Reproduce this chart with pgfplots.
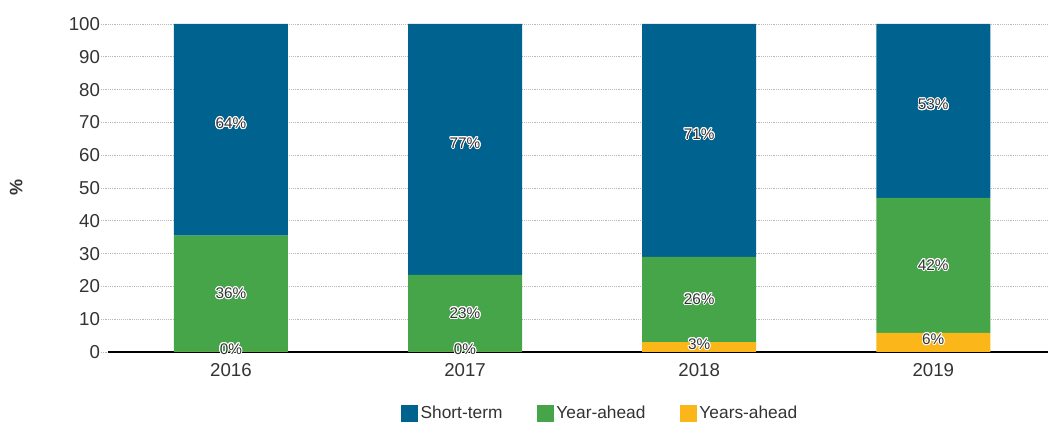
\documentclass[border=0pt]{standalone}
\usepackage{pgfplots}
\pgfplotsset{compat=1.18}
\usepackage{fontspec}
\setmainfont{Liberation Sans}
\usepackage{contour}
\contourlength{0.7pt}
\definecolor{cshort}{HTML}{00628F}
\definecolor{cyear}{HTML}{45A548}
\definecolor{cyears}{HTML}{FBB71A}
\definecolor{ctext}{HTML}{333333}
\begin{document}
\begin{tikzpicture}
\begin{axis}[
  scale only axis, width=705pt, height=246pt,
  ybar stacked, bar width=85.5pt,
  xmin=-0.525, xmax=3.49, ymin=0, ymax=100,
  xtick={0,1,2,3}, xticklabels={2016,2017,2018,2019},
  ytick={0,10,...,100},
  axis x line*=bottom, axis y line*=left,
  x axis line style={black, line width=1pt},
  y axis line style={draw=none},
  xtick style={draw=none},
  ytick style={gray!55, densely dotted, line width=0.6pt},
  tick align=outside, major tick length=5pt,
  ymajorgrids, grid style={gray!55, densely dotted, line width=0.6pt},
  tick label style={font=\fontsize{14}{15}\selectfont, text=ctext},
  yticklabel style={xshift=2.5pt},
  /pgf/number format/assume math mode=true,
  ylabel={\textbf{\%}}, ylabel style={font=\fontsize{13.5}{14}\selectfont, text=ctext, at={(axis description cs:-0.086,0.5)}},
  point meta=explicit symbolic,
  nodes near coords={\contour{white}{\pgfplotspointmeta}},
  every node near coord/.append style={font=\fontsize{11.5}{12}\selectfont, text=ctext, anchor=center},
  reverse legend,
  legend style={at={(0.524,-0.187)}, anchor=center, draw=none, legend columns=3,
    font=\fontsize{13}{14}\selectfont, text=ctext,
    /tikz/every even column/.append style={column sep=24pt}},
  legend image code/.code={\fill[#1] (-3pt,-6.5pt) rectangle (9.5pt,6pt);},
  clip=false,
]
\addplot[fill=cyears, draw=none, nodes near coords style={yshift=2pt}] coordinates {(0,0.01) [0\%] (1,0.01) [0\%] (2,3) [3\%] (3,5.8) [6\%]};
\addplot[fill=cyear, draw=none] coordinates {(0,35.5) [36\%] (1,23.5) [23\%] (2,26) [26\%] (3,41.2) [42\%]};
\addplot[fill=cshort, draw=none, nodes near coords style={yshift=4.5pt}] coordinates {(0,64.5) [64\%] (1,76.5) [77\%] (2,71) [71\%] (3,53) [53\%]};
\legend{Years-ahead, Year-ahead, Short-term}
\path (rel axis cs:0,0) ++(-81pt,-54pt) coordinate (bl);
\path (rel axis cs:1,1) ++(0pt,18pt) coordinate (tr);
\end{axis}
\pgfresetboundingbox
\useasboundingbox (bl) rectangle (tr);
\end{tikzpicture}
\end{document}
